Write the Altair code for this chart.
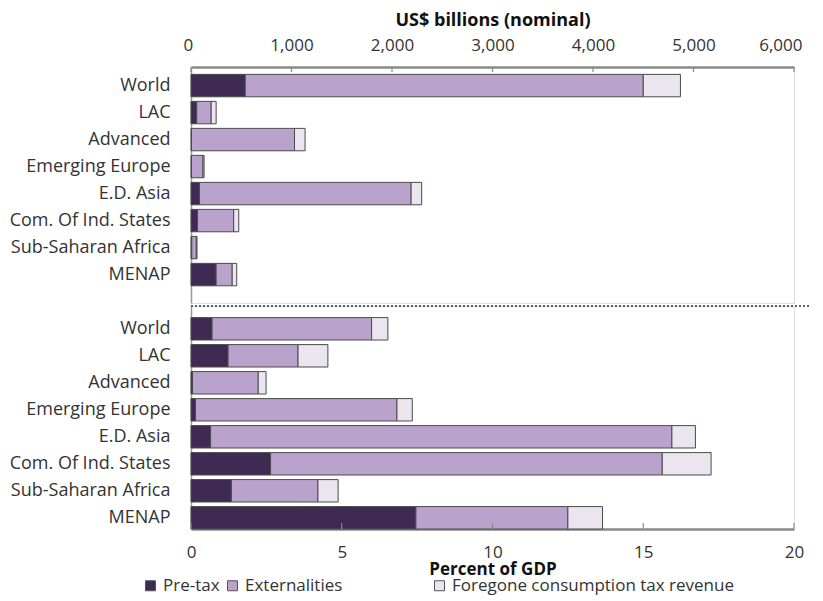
import altair as alt
import pandas as pd

regions = ["World", "LAC", "Advanced", "Emerging Europe", "E.D. Asia",
           "Com. Of Ind. States", "Sub-Saharan Africa", "MENAP"]
components = ["Pre-tax", "Externalities", "Foregone consumption tax revenue"]
colors = ["#3e2a52", "#b9a3cc", "#ebe5f0"]

# US$ billions (nominal)
usd_pretax = [540, 57, 5, 5, 85, 65, 8, 250]
usd_extern = [3960, 144, 1025, 115, 2105, 360, 45, 160]
usd_forgone = [370, 49, 105, 10, 105, 50, 7, 45]

# Percent of GDP
gdp_pretax = [0.70, 1.23, 0.05, 0.15, 0.65, 2.64, 1.34, 7.46]
gdp_extern = [5.29, 2.32, 2.18, 6.68, 15.30, 12.99, 2.87, 5.04]
gdp_forgone = [0.54, 0.99, 0.26, 0.51, 0.78, 1.62, 0.67, 1.15]

usd_ticks = [0, 1000, 2000, 3000, 4000, 5000, 6000]
gdp_ticks = [0, 5, 10, 15, 20]

FONT = "Open Sans"


def long_frame(series):
    rows = []
    for ci, (comp, vals) in enumerate(zip(components, series)):
        for r, v in zip(regions, vals):
            rows.append({"region": r, "component": comp, "order": ci, "value": v})
    return pd.DataFrame(rows)


df_usd = long_frame([usd_pretax, usd_extern, usd_forgone])
df_gdp = long_frame([gdp_pretax, gdp_extern, gdp_forgone])

W = 603
H_TOP = 236
H_BOT = 223

color_scale = alt.Scale(domain=components, range=colors)

y_axis = alt.Axis(title=None, ticks=False, labelPadding=21, labelFontSize=18,
                  labelColor="#333333", labelFont=FONT, domainColor="#9a9a9a",
                  domainWidth=1.5, labelLimit=300)

# ---------- top panel ----------
top_bars = alt.Chart(df_usd).mark_bar(stroke="#4a4a4a", strokeWidth=1).encode(
    y=alt.Y("region:N", sort=regions, axis=y_axis,
            scale=alt.Scale(paddingInner=0.17, paddingOuter=0.455, align=0.30)),
    x=alt.X("value:Q", stack="zero",
            scale=alt.Scale(domain=[0, 6000], nice=False),
            axis=alt.Axis(orient="top", title="US$ billions (nominal)",
                          values=usd_ticks, format=",.0f", grid=False,
                          tickSize=0, labelPadding=13, labelFontSize=17,
                          labelFlush=True, labelFlushOffset=8,
                          labelColor="#333333", labelFont=FONT,
                          titleFont=FONT, titleFontSize=18, titleFontWeight="bold",
                          titleColor="#111111", titlePadding=7,
                          domainColor="#8a8a8a", domainWidth=2.5)),
    color=alt.Color("component:N", scale=color_scale, legend=None),
    order=alt.Order("order:Q"),
)

top_ticks = alt.Chart(pd.DataFrame({"t": usd_ticks})).mark_rule(
    color="#8a8a8a", strokeWidth=1.2).encode(
    x="t:Q", y=alt.value(0), y2=alt.value(5))

top = alt.layer(top_bars, top_ticks).properties(width=W, height=H_TOP)

# ---------- bottom panel ----------
pad = "\u00a0" * 19 + "\u200b"
legend_label = ("datum.label == 'Externalities' ? 'Externalities' + '" + pad +
                "' : datum.label")

bot_bars = alt.Chart(df_gdp).mark_bar(stroke="#4a4a4a", strokeWidth=1).encode(
    y=alt.Y("region:N", sort=regions, axis=y_axis,
            scale=alt.Scale(paddingInner=0.17, paddingOuter=0.215, align=1.0)),
    x=alt.X("value:Q", stack="zero",
            scale=alt.Scale(domain=[0, 20], nice=False),
            axis=alt.Axis(orient="bottom", title="Percent of GDP",
                          values=gdp_ticks, grid=False, labelFlush=False,
                          tickSize=0, labelPadding=15, labelFontSize=17,
                          labelColor="#333333", labelFont=FONT,
                          titleFont=FONT, titleFontSize=17, titleFontWeight="bold",
                          titleColor="#111111", titlePadding=1,
                          domainColor="#8a8a8a", domainWidth=2.5)),
    color=alt.Color("component:N", scale=color_scale,
                    legend=alt.Legend(title=None, orient="none", direction="horizontal",
                                      legendX=-49, legendY=271, padding=0,
                                      symbolType="square", symbolSize=100,
                                      symbolStrokeColor="#555555", symbolStrokeWidth=1,
                                      labelFontSize=17, labelFont=FONT,
                                      labelColor="#333333", labelOffset=4,
                                      labelLimit=400, columnPadding=4,
                                      labelExpr=legend_label)),
    order=alt.Order("order:Q"),
)

bot_ticks = alt.Chart(pd.DataFrame({"t": gdp_ticks})).mark_rule(
    color="#8a8a8a", strokeWidth=1.2).encode(
    x="t:Q", y=alt.value(H_BOT - 6), y2=alt.value(H_BOT))

divider = alt.Chart(pd.DataFrame({"d": [0]})).mark_rule(
    color="#333333", strokeWidth=1.5, strokeDash=[2, 2]).encode(
    x=alt.value(0), x2=alt.value(W + 17), y=alt.value(0))

bottom = alt.layer(bot_bars, bot_ticks, divider).properties(width=W, height=H_BOT)

chart = alt.vconcat(top, bottom, spacing=0).resolve_scale(
    x="independent", y="independent", color="independent"
).resolve_legend(color="independent").properties(
    padding={"left": 0, "top": 2, "right": 0, "bottom": 0}
).configure_view(strokeWidth=0).configure(background="white")

chart.save("out.html", embed_options={"renderer": "svg", "actions": False})
